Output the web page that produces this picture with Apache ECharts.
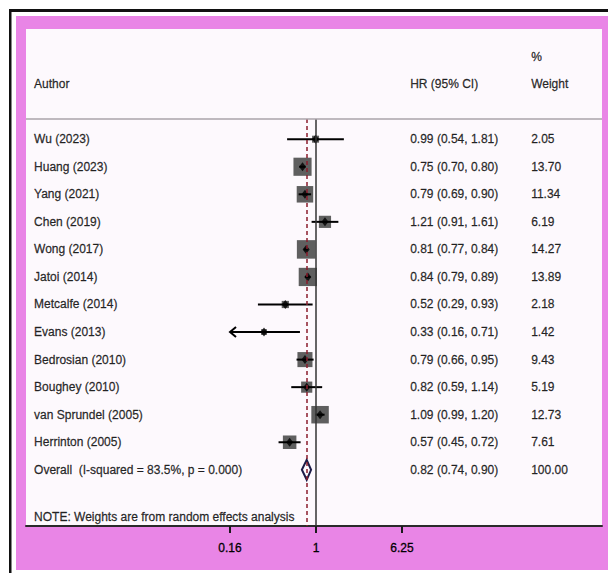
<!DOCTYPE html>
<html>
<head>
<meta charset="utf-8">
<script src="https://cdn.jsdelivr.net/npm/echarts@6/dist/echarts.min.js"></script>
<style>
  html, body { margin: 0; padding: 0; background: #ffffff; }
  #chart { width: 608px; height: 573px; }
</style>
</head>
<body>
<div id="chart"></div>
<script>
// ---- Study data (hazard ratios with 95% CI and random-effects weights) ----
const studies = [
  'Wu (2023)', 'Huang (2023)', 'Yang (2021)', 'Chen (2019)', 'Wong (2017)',
  'Jatoi (2014)', 'Metcalfe (2014)', 'Evans (2013)', 'Bedrosian (2010)',
  'Boughey (2010)', 'van Sprundel (2005)', 'Herrinton (2005)'
];
const hr      = [0.99, 0.75, 0.79, 1.21, 0.81, 0.84, 0.52, 0.33, 0.79, 0.82, 1.09, 0.57];
const ciLow   = [0.54, 0.70, 0.69, 0.91, 0.77, 0.79, 0.29, 0.16, 0.66, 0.59, 0.99, 0.45];
const ciHigh  = [1.81, 0.80, 0.90, 1.61, 0.84, 0.89, 0.93, 0.71, 0.95, 1.14, 1.20, 0.72];
const weights = [2.05, 13.70, 11.34, 6.19, 14.27, 13.89, 2.18, 1.42, 9.43, 5.19, 12.73, 7.61];

const overallLabel  = 'Overall\u00a0 (I-squared = 83.5%, p = 0.000)';
const overallHR     = 0.82;
const overallLow    = 0.74;
const overallHigh   = 0.90;
const overallWeight = 100.00;

const noteText = 'NOTE: Weights are from random effects analysis';
const xTickValues = [0.16, 1, 6.25];
const xTickLabels = ['0.16', '1', '6.25'];

// ---- Layout ----
const FONT = '"Liberation Sans", Arial, Helvetica, sans-serif';
const LOG_BASE = 6.25;
const X_MIN = Math.pow(LOG_BASE, -3.372);
const X_MAX = Math.pow(LOG_BASE, 3.325);
const Y_MIN = -4;          // row units (inverted axis)
const Y_MAX = 14.04;
const SEP_ROW = -0.73;     // line under the column headers
const HEAD_ROW_1 = -3;
const HEAD_ROW_2 = -2;
const OVERALL_ROW = studies.length;
const NOTE_ROW = 13.72;
const COL_AUTHOR = 0.014;  // fractions of the panel width
const COL_HR = 0.667;
const COL_WEIGHT = 0.877;
const BOX_UNIT = 4.9;      // px per sqrt(weight)
const BOX_COLOR = '#5f5f5f';
const PANEL_BG = '#fdf9fd';
const PINK = '#e985e6';
const TEXT_STYLE = { color: '#000', fontSize: 12, fontFamily: FONT, textBorderColor: '#000', textBorderWidth: 0.3 };

const fmt = v => v.toFixed(2);
const ciText = (h, l, u) => fmt(h) + ' (' + fmt(l) + ', ' + fmt(u) + ')';

// text items for the table columns
const textItems = [];
const addText = (col, row, txt) => textItems.push({ name: txt, value: [col, row] });
addText(COL_WEIGHT, HEAD_ROW_1, '%');
addText(COL_AUTHOR, HEAD_ROW_2, 'Author');
addText(COL_HR, HEAD_ROW_2, 'HR (95% CI)');
addText(COL_WEIGHT, HEAD_ROW_2, 'Weight');
studies.forEach((s, i) => {
  addText(COL_AUTHOR, i, s);
  addText(COL_HR, i, ciText(hr[i], ciLow[i], ciHigh[i]));
  addText(COL_WEIGHT, i, fmt(weights[i]));
});
addText(COL_AUTHOR, OVERALL_ROW, overallLabel);
addText(COL_HR, OVERALL_ROW, ciText(overallHR, overallLow, overallHigh));
addText(COL_WEIGHT, OVERALL_ROW, fmt(overallWeight));
addText(COL_AUTHOR, NOTE_ROW, noteText);

const boxData = studies.map((s, i) => [hr[i], i, weights[i]]);
const ciData = studies.map((s, i) => [ciLow[i], ciHigh[i], i, ciLow[i] <= xTickValues[0] ? 1 : 0]);
const pointData = studies.map((s, i) => [hr[i], i]);

const chart = echarts.init(document.getElementById('chart'), null, { renderer: 'svg' });

chart.setOption({
  animation: false,
  backgroundColor: '#ffffff',
  graphic: [
    { type: 'rect', z: -100, silent: true, shape: { x: 16, y: 16, width: 592, height: 554 }, style: { fill: PINK } },
    { type: 'rect', z: -100, silent: true, shape: { x: 9, y: 9, width: 2.5, height: 564 }, style: { fill: '#111111' } },
    { type: 'rect', z: -100, silent: true, shape: { x: 9, y: 9, width: 599, height: 3 }, style: { fill: '#111111' } }
  ],
  grid: {
    left: 26, right: 6, top: 29, bottom: 47,
    show: true, backgroundColor: PANEL_BG, borderWidth: 0
  },
  xAxis: [
    {
      type: 'log', logBase: LOG_BASE, min: X_MIN, max: X_MAX,
      position: 'bottom',
      splitLine: { show: false },
      axisLine: { show: true, onZero: false, lineStyle: { color: '#2a2a2a', width: 2 } },
      axisTick: { show: true, customValues: xTickValues, length: 7, lineStyle: { color: '#1a1a1a', width: 2 } },
      axisLabel: Object.assign({
        show: true, customValues: xTickValues, margin: 16,
        formatter: v => {
          const k = xTickValues.findIndex(t => Math.abs(t - v) < 1e-6);
          return k >= 0 ? xTickLabels[k] : '';
        }
      }, TEXT_STYLE),
      minorTick: { show: false }
    },
    { type: 'value', min: 0, max: 1, show: false, axisLine: { onZero: false } }
  ],
  yAxis: { type: 'value', min: Y_MIN, max: Y_MAX, inverse: true, show: false, axisLine: { onZero: false } },
  series: [
    {
      // reference lines: null effect, pooled estimate, header rule
      type: 'scatter', data: [], z: 1, silent: true,
      markLine: {
        silent: true, symbol: 'none', label: { show: false },
        data: [
          [{ coord: [1, SEP_ROW], lineStyle: { color: '#333333', width: 1.5, type: 'solid' } },
           { coord: [1, Y_MAX] }],
          [{ coord: [overallHR, SEP_ROW], lineStyle: { color: '#8b1c2c', width: 1.5, type: [4, 3] } },
           { coord: [overallHR, Y_MAX] }],
          { yAxis: SEP_ROW, lineStyle: { color: '#aaa3aa', width: 1.5, type: 'solid' } }
        ]
      }
    },
    {
      // weight boxes (area proportional to weight)
      type: 'custom', z: 2, silent: true,
      data: boxData,
      encode: { x: 0, y: 1 },
      renderItem: (params, api) => {
        const c = api.coord([api.value(0), api.value(1)]);
        const s = BOX_UNIT * Math.sqrt(api.value(2));
        return { type: 'rect', shape: { x: c[0] - s / 2, y: c[1] - s / 2, width: s, height: s }, style: { fill: BOX_COLOR } };
      }
    },
    {
      // confidence intervals
      type: 'custom', z: 3, silent: true,
      data: ciData,
      encode: { x: [0, 1], y: 2 },
      renderItem: (params, api) => {
        const row = api.value(2);
        const a = api.coord([api.value(0), row]);
        const b = api.coord([api.value(1), row]);
        const children = [{ type: 'line', shape: { x1: a[0], y1: a[1], x2: b[0], y2: b[1] }, style: { stroke: '#000', lineWidth: 2 } }];
        if (api.value(3)) {
          children.push({ type: 'polyline', shape: { points: [[a[0] + 6, a[1] - 5], [a[0], a[1]], [a[0] + 6, a[1] + 5]] },
            style: { stroke: '#000', lineWidth: 2, fill: null } });
        }
        return { type: 'group', children };
      }
    },
    {
      // point estimates
      type: 'scatter', z: 4, silent: true,
      data: pointData,
      symbol: 'diamond', symbolSize: [7, 9],
      itemStyle: { color: '#000' }
    },
    {
      // pooled estimate diamond
      type: 'custom', z: 4, silent: true,
      data: [[overallLow, overallHigh, OVERALL_ROW, overallHR]],
      encode: { x: [0, 1], y: 2 },
      renderItem: (params, api) => {
        const row = api.value(2);
        const l = api.coord([api.value(0), row]);
        const r = api.coord([api.value(1), row]);
        const m = api.coord([api.value(3), row]);
        const h = 10;
        return { type: 'polygon', shape: { points: [[l[0], l[1]], [m[0], m[1] - h], [r[0], r[1]], [m[0], m[1] + h]] },
          style: { stroke: '#1c1c48', lineWidth: 2, fill: PANEL_BG } };
      }
    },
    {
      // table text
      type: 'scatter', z: 5, silent: true,
      xAxisIndex: 1, yAxisIndex: 0,
      data: textItems,
      symbolSize: 0,
      label: Object.assign({ show: true, position: 'right', distance: 0, formatter: '{b}' }, TEXT_STYLE)
    }
  ]
});
</script>
</body>
</html>
